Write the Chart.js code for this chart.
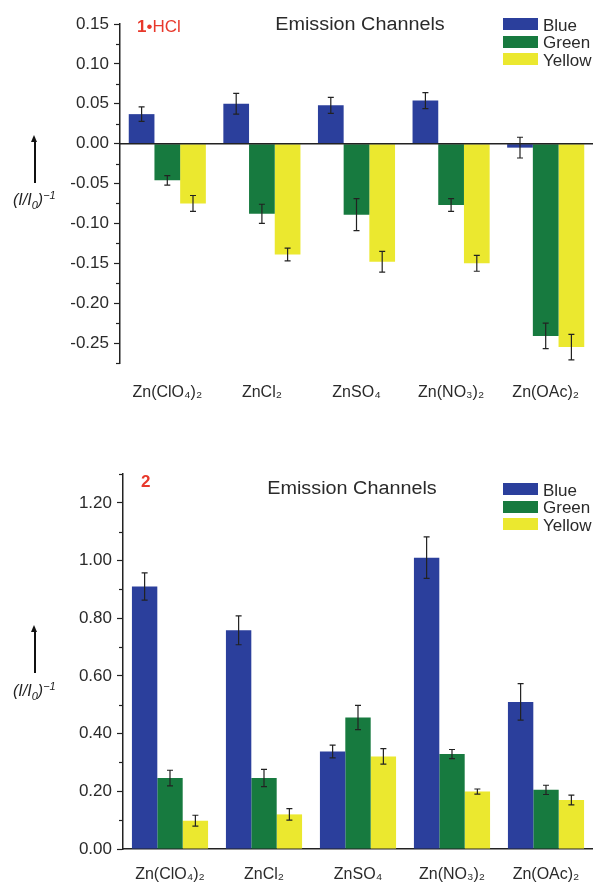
<!DOCTYPE html>
<html><head><meta charset="utf-8">
<script src="https://cdn.jsdelivr.net/npm/chart.js@4.4.1/dist/chart.umd.min.js"></script>
<style>
body{margin:0;width:593px;height:888px;position:relative;background:#fff;font-family:"Liberation Sans",Arial,sans-serif;overflow:hidden}
.cv{position:absolute;left:0}
.ov{position:absolute;white-space:nowrap;color:#2a2a2a;line-height:1}
.title{font-size:18px;transform:translate(-50%,-50%) scaleX(1.1)}
.tag{color:#e8382b;font-size:17px;transform:translateY(-50%)}
.lgbox{position:absolute;width:35px;height:12px}
.lgtxt{position:absolute;font-size:17px;transform:translateY(-50%);color:#2a2a2a;line-height:1}
.arrow{position:absolute;width:1.5px;background:#111}
.arrow:before{content:"";position:absolute;left:-3px;top:-6px;border-left:3.7px solid transparent;border-right:3.7px solid transparent;border-bottom:7px solid #111}
.ytitle{position:absolute;font-size:16px;font-style:italic;color:#222;line-height:1;white-space:nowrap}
.ytitle sub{font-size:11px;vertical-align:-4px}
.ytitle sup{font-size:11px;vertical-align:6px}
</style>
</head><body>
<canvas id="c1" class="cv" style="top:0" width="593" height="420"></canvas>
<canvas id="c2" class="cv" style="top:420px" width="593" height="468"></canvas>

<div class="ov title" style="left:360px;top:24px">Emission Channels</div>
<div class="ov tag" style="left:137px;top:26px"><b>1</b>•HCl</div>
<div class="ov title" style="left:352px;top:488px">Emission Channels</div>
<div class="ov tag" style="left:141px;top:481px"><b>2</b></div>

<div class="arrow" style="left:34px;top:141px;height:42px"></div>
<div class="ytitle" style="left:13px;top:190px">(I/I<sub>0</sub>)<sup>−1</sup></div>
<div class="arrow" style="left:34px;top:631px;height:42px"></div>
<div class="ytitle" style="left:13px;top:681px">(I/I<sub>0</sub>)<sup>−1</sup></div>

<div id="lg1"></div>
<div id="lg2"></div>

<script>
// ---- data ----
const categories = ['Zn(ClO\u2084)\u2082', 'ZnCl\u2082', 'ZnSO\u2084', 'Zn(NO\u2083)\u2082', 'Zn(OAc)\u2082'];
const seriesNames = ['Blue', 'Green', 'Yellow'];
const seriesColors = ['#2b3f9c', '#177a3f', '#ebe82f'];

// panel 1 (1•HCl)
const hclBlue   = [0.037, 0.050, 0.048, 0.054, -0.005];
const hclGreen  = [-0.046, -0.088, -0.089, -0.077, -0.241];
const hclYellow = [-0.075, -0.139, -0.148, -0.150, -0.255];
const hclBlueErr   = [0.009, 0.013, 0.010, 0.010, 0.013];
const hclGreenErr  = [0.006, 0.012, 0.020, 0.008, 0.016];
const hclYellowErr = [0.010, 0.008, 0.013, 0.010, 0.016];
const hclTicks = [-0.25, -0.20, -0.15, -0.10, -0.05, 0.00, 0.05, 0.10, 0.15];

// panel 2 (2)
const p2Blue   = [0.910, 0.758, 0.338, 1.010, 0.510];
const p2Green  = [0.246, 0.246, 0.456, 0.329, 0.205];
const p2Yellow = [0.098, 0.120, 0.321, 0.199, 0.170];
const p2BlueErr   = [0.047, 0.050, 0.022, 0.072, 0.063];
const p2GreenErr  = [0.027, 0.030, 0.042, 0.016, 0.016];
const p2YellowErr = [0.019, 0.020, 0.027, 0.009, 0.017];
const p2Ticks = [0.00, 0.20, 0.40, 0.60, 0.80, 1.00, 1.20];

// ---- legends (HTML) ----
function legend(id, top) {
  const el = document.getElementById(id);
  seriesNames.forEach((n, i) => {
    const y = top + i * 17.5;
    el.insertAdjacentHTML('beforeend',
      `<div class="lgbox" style="left:503px;top:${y}px;background:${seriesColors[i]}"></div>` +
      `<div class="lgtxt" style="left:543px;top:${y + 6.5}px">${n}</div>`);
  });
}
legend('lg1', 18);
legend('lg2', 483);

// ---- plugins ----
const errPlugin = {
  id: 'errbars',
  afterDatasetsDraw(chart) {
    const ctx = chart.ctx, ys = chart.scales.y;
    ctx.save();
    ctx.strokeStyle = '#222';
    ctx.lineWidth = 1.2;
    chart.data.datasets.forEach((ds, i) => {
      const meta = chart.getDatasetMeta(i);
      meta.data.forEach((bar, j) => {
        const v = ds.data[j], e = ds.err[j];
        const y1 = ys.getPixelForValue(v + e), y2 = ys.getPixelForValue(v - e);
        const x = bar.x;
        ctx.beginPath();
        ctx.moveTo(x, y1); ctx.lineTo(x, y2);
        ctx.moveTo(x - 3, y1); ctx.lineTo(x + 3, y1);
        ctx.moveTo(x - 3, y2); ctx.lineTo(x + 3, y2);
        ctx.stroke();
      });
    });
    ctx.restore();
  }
};
const minorPlugin = {
  id: 'minor',
  afterDraw(chart, args, opts) {
    const ys = chart.scales.y, ctx = chart.ctx;
    const ticks = ys.ticks.map(t => t.value).sort((a, b) => a - b);
    const step = ticks[1] - ticks[0];
    const vals = [];
    for (let k = 0; k < ticks.length; k++) vals.push(ticks[k] - step / 2);
    vals.push(ticks[ticks.length - 1] + step / 2);
    ctx.save();
    ctx.strokeStyle = '#222';
    ctx.lineWidth = 1.2;
    vals.forEach(v => {
      if (v < ys.min - 1e-9 || v > ys.max + 1e-9) return;
      const y = Math.round(ys.getPixelForValue(v)) + 0.5;
      ctx.beginPath();
      ctx.moveTo(ys.right - 4, y); ctx.lineTo(ys.right, y);
      ctx.stroke();
    });
    if (opts.zeroLine) {
      const y0 = ys.getPixelForValue(0);
      ctx.lineWidth = 1.5;
      ctx.beginPath();
      ctx.moveTo(chart.chartArea.left, y0); ctx.lineTo(chart.chartArea.right, y0);
      ctx.stroke();
    }
    ctx.restore();
  }
};

function makeChart(id, vals, errs, tickList, ymin, ymax, padTop, yWidth, xHeight, labelPad, catPct, zeroLine, xBorder) {
  return new Chart(document.getElementById(id), {
    type: 'bar',
    data: {
      labels: categories,
      datasets: seriesNames.map((n, i) => ({
        label: n, data: vals[i], err: errs[i],
        backgroundColor: seriesColors[i], borderWidth: 0,
        barPercentage: 1, categoryPercentage: catPct
      }))
    },
    options: {
      responsive: false, animation: false, devicePixelRatio: 1,
      layout: { padding: { top: padTop, left: 0, right: 0, bottom: 0 } },
      plugins: { legend: { display: false }, tooltip: { enabled: false }, minor: { zeroLine } },
      scales: {
        x: {
          grid: { display: false, drawTicks: false },
          border: { display: xBorder, color: '#222', width: 1.5 },
          ticks: { color: '#2a2a2a', font: { family: '"Liberation Sans", Arial, "DejaVu Sans"', size: 16 }, padding: labelPad, maxRotation: 0, autoSkip: false },
          afterFit(s) { s.height = xHeight; s.paddingLeft = 0; s.paddingRight = 0; }
        },
        y: {
          min: ymin, max: ymax,
          grid: { drawOnChartArea: false, tickLength: 6, tickColor: '#222', tickWidth: 1.2 },
          border: { color: '#222', width: 1.5 },
          afterBuildTicks(s) { s.ticks = tickList.map(v => ({ value: v })); },
          ticks: {
            padding: 5,
            color: '#2a2a2a', font: { family: '"Liberation Sans", Arial', size: 17 },
            callback: v => Number(v).toFixed(2)
          },
          afterFit(s) { s.width = yWidth; s.paddingTop = 0; s.paddingBottom = 0; }
        }
      }
    },
    plugins: [errPlugin, minorPlugin]
  });
}

makeChart('c1', [hclBlue, hclGreen, hclYellow], [hclBlueErr, hclGreenErr, hclYellowErr],
  hclTicks, -0.275, 0.15, 24, 120, 57, 20, 0.815, true, false);
makeChart('c2', [p2Blue, p2Green, p2Yellow], [p2BlueErr, p2GreenErr, p2YellowErr],
  p2Ticks, 0, 1.30, 54, 123, 39, 16, 0.81, false, true);
</script>
</body></html>
